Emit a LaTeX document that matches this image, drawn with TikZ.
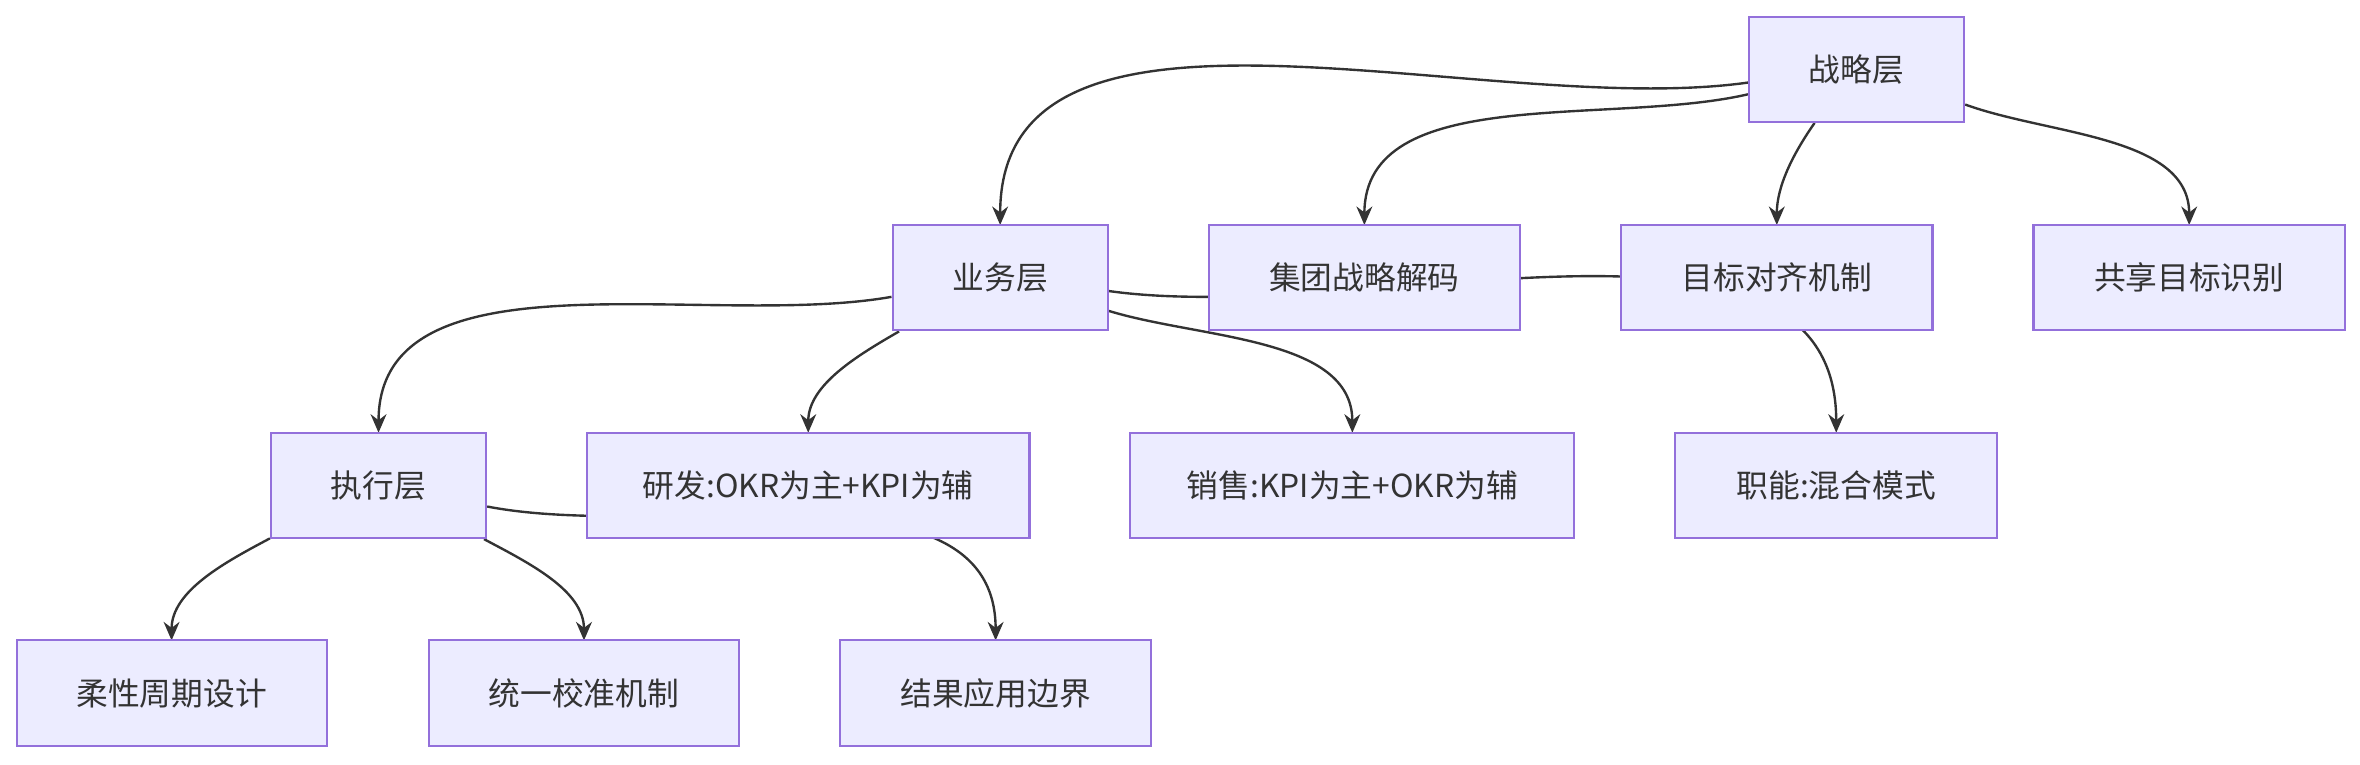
\documentclass[tikz,border=0pt]{standalone}
\usepackage{fontspec}
\setmainfont{Noto Sans CJK SC}
\usetikzlibrary{arrows.meta}
\definecolor{boxfill}{HTML}{ECECFF}
\definecolor{boxline}{HTML}{9370DB}
\definecolor{linkcol}{HTML}{333333}
\tikzset{
  box/.style={draw=boxline,fill=boxfill,line width=0.8pt,minimum height=1.4cm,inner sep=0pt,
    font=\fontsize{12}{14}\selectfont,text=linkcol},
  link/.style={draw=linkcol,line width=0.9pt,-{Stealth[length=7pt,width=6pt]},looseness=0.9}
}
\begin{document}
\begin{tikzpicture}[x=0.02cm,y=0.02cm]
\useasboundingbox (0,0) rectangle (1568,508);
% edges first, boxes cover them
\coordinate (zlc) at (1233.5,462);
\coordinate (ywc) at (664.5,323.5);
\coordinate (zxc) at (251.5,185.5);
\node[box,minimum width=2.86cm] (zl) at (zlc) {战略层};
\node[box,minimum width=2.86cm] (yw) at (ywc) {业务层};
\node[box,minimum width=2.86cm] (zx) at (zxc) {执行层};
\draw[link] (zl.187) to[out=188,in=90] (664.5,358.5);
\draw[link] (zl.193) to[out=193,in=90] (906.5,358.5);
\draw[link] (zl.232) to[out=235,in=90] (1180.5,358.5);
\draw[link] (zl.342) to[out=340,in=90] (1454.5,358.5);
\draw[link] (yw.190) to[out=190,in=90] (251.5,220.5);
\draw[link] (yw.208) to[out=210,in=90] (537,220.5);
\draw[link] (yw.343) to[out=343,in=90] (898.5,220.5);
\draw[link] (yw.353) to[out=352,in=90] (1220,220.5);
\draw[link] (zx.206) to[out=208,in=90] (114,82.5);
\draw[link] (zx.333) to[out=332,in=90] (388,82.5);
\draw[link] (zx.349) to[out=349,in=90] (661.5,82.5);
% boxes
\node[box,minimum width=2.86cm] at (zlc) {战略层};
\node[box,minimum width=2.86cm] at (ywc) {业务层};
\node[box,minimum width=2.86cm] at (zxc) {执行层};
\node[box,minimum width=4.14cm] (jt) at (906.5,323.5) {集团战略解码};
\node[box,minimum width=4.14cm] (mb) at (1180.5,323.5) {目标对齐机制};
\node[box,minimum width=4.14cm] (gx) at (1454.5,323.5) {共享目标识别};
\node[box,minimum width=5.88cm] (yf) at (537,185.5) {研发:OKR为主+KPI为辅};
\node[box,minimum width=5.9cm] (xs) at (898.5,185.5) {销售:KPI为主+OKR为辅};
\node[box,minimum width=4.28cm] (zn) at (1220,185.5) {职能:混合模式};
\node[box,minimum width=4.12cm] (rx) at (114,47.5) {柔性周期设计};
\node[box,minimum width=4.12cm] (ty) at (388,47.5) {统一校准机制};
\node[box,minimum width=4.14cm] (jg) at (661.5,47.5) {结果应用边界};
\end{tikzpicture}
\end{document}
